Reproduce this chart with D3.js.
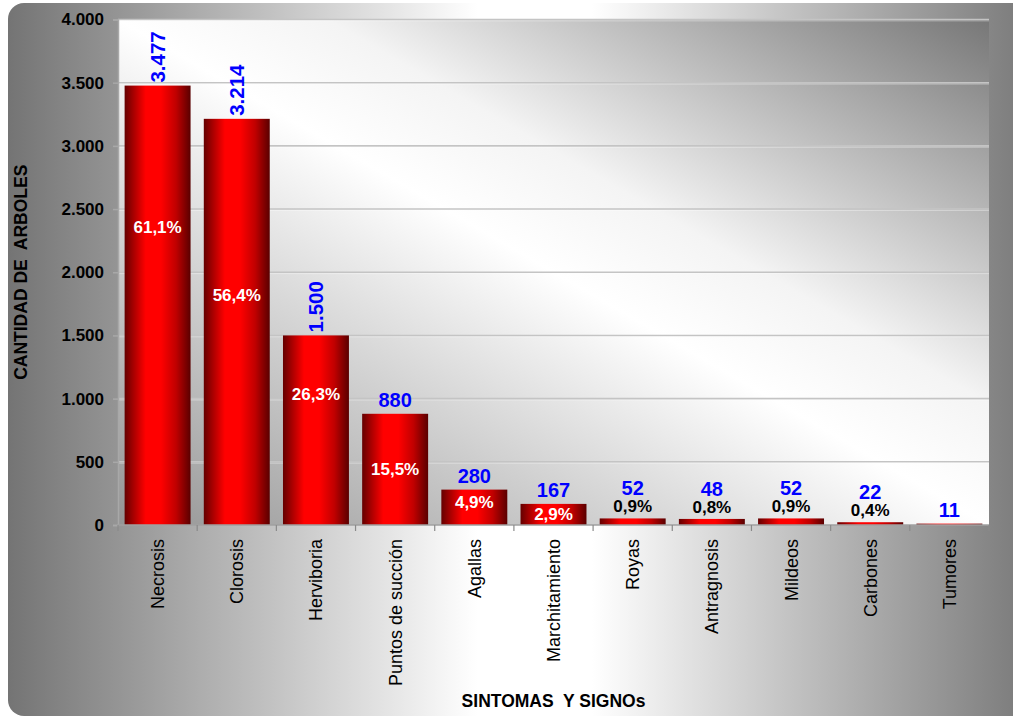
<!DOCTYPE html>
<html>
<head>
<meta charset="utf-8">
<script src="https://cdn.jsdelivr.net/npm/d3@7"></script>
<style>
  body { margin: 0; background: #ffffff; }
  text { font-family: Arial, "Liberation Sans", sans-serif; }
</style>
</head>
<body>
<svg id="chart" width="1013" height="716"></svg>
<script>
// Symptoms and signs observed, number of trees affected
const categories = ["Necrosis", "Clorosis", "Herviboria", "Puntos de succión", "Agallas",
  "Marchitamiento", "Royas", "Antragnosis", "Mildeos", "Carbones", "Tumores"];
const trees = [3477, 3214, 1500, 880, 280, 167, 52, 48, 52, 22, 11];
const sharePct = [61.1, 56.4, 26.3, 15.5, 4.9, 2.9, 0.9, 0.8, 0.9, 0.4, null];
const yTicks = [0, 500, 1000, 1500, 2000, 2500, 3000, 3500, 4000];

const width = 1013, height = 716;
const plot = { left: 118, right: 989, top: 19.5, bottom: 525 };

const esLocale = d3.formatLocale({ decimal: ",", thousands: ".", grouping: [3], currency: ["", " €"] });
const fmtCount = esLocale.format(",d");
const fmtPct = esLocale.format(".1f");

const svg = d3.select("#chart");
const defs = svg.append("defs");

// Frame fill: grey at both sides, white through the middle
const frameGrad = defs.append("linearGradient").attr("id", "frameFill")
  .attr("x1", 0).attr("y1", 0).attr("x2", 1).attr("y2", 0);
[[0, "#747474"], [0.45, "#ffffff"], [0.56, "#ffffff"], [1, "#737373"]].forEach(([o, c]) =>
  frameGrad.append("stop").attr("offset", o).attr("stop-color", c));

// Plot area fill: diagonal, grey in the lower-left and upper-right corners
const plotGrad = defs.append("linearGradient").attr("id", "plotFill")
  .attr("x1", 0).attr("y1", 1).attr("x2", 1).attr("y2", 0);
[[0, "#949494"], [0.5, "#ffffff"], [0.62, "#f4f4f4"], [1, "#777777"]].forEach(([o, c]) =>
  plotGrad.append("stop").attr("offset", o).attr("stop-color", c));

// Cylinder-like shading of the bars
const barGrad = defs.append("linearGradient").attr("id", "barFill")
  .attr("x1", 0).attr("y1", 0).attr("x2", 1).attr("y2", 0);
[[0, "#650000"], [0.12, "#a00000"], [0.32, "#ff0000"], [0.55, "#ff0000"], [0.78, "#c00000"], [1, "#5a0000"]]
  .forEach(([o, c]) => barGrad.append("stop").attr("offset", o).attr("stop-color", c));

// Outer frame
svg.append("rect")
  .attr("x", 8).attr("y", 3)
  .attr("width", width + 30).attr("height", height - 3)
  .attr("rx", 16).attr("ry", 16)
  .attr("fill", "url(#frameFill)");

// Plot background
svg.append("rect")
  .attr("x", plot.left).attr("y", plot.top)
  .attr("width", plot.right - plot.left).attr("height", plot.bottom - plot.top)
  .attr("fill", "url(#plotFill)");

const x = d3.scaleBand()
  .domain(categories)
  .range([plot.left, plot.right])
  .paddingInner(0.167)
  .paddingOuter(0.0835);

const y = d3.scaleLinear()
  .domain([0, 4000])
  .range([plot.bottom, plot.top]);

// Horizontal gridlines
const grid = svg.append("g");
grid.selectAll("line.grid")
  .data(yTicks.filter(v => v > 0))
  .join("line")
  .attr("class", "grid")
  .attr("x1", plot.left).attr("x2", plot.right)
  .attr("y1", d => y(d)).attr("y2", d => y(d))
  .attr("stroke", "#c4c4c4").attr("stroke-width", 1.6);
grid.selectAll("line.hl")
  .data(yTicks.filter(v => v > 0))
  .join("line")
  .attr("class", "hl")
  .attr("x1", plot.left).attr("x2", plot.right)
  .attr("y1", d => y(d) + 1.4).attr("y2", d => y(d) + 1.4)
  .attr("stroke", "#ffffff").attr("stroke-opacity", 0.35).attr("stroke-width", 1);

// Y axis
const yAxis = svg.append("g")
  .attr("transform", `translate(${plot.left},0)`)
  .call(d3.axisLeft(y).tickValues(yTicks).tickFormat(fmtCount).tickSize(5).tickPadding(9));
yAxis.select(".domain").attr("stroke", "#a8a8a8").attr("stroke-width", 1.5);
yAxis.selectAll(".tick line").attr("stroke", "#a8a8a8").attr("stroke-width", 1.5);
yAxis.selectAll(".tick text")
  .attr("fill", "#000").attr("font-size", 17).attr("font-weight", "bold")
  .attr("font-family", "Arial, 'Liberation Sans', sans-serif");

// Bars
svg.append("g").selectAll("rect")
  .data(categories.map((c, i) => ({ c, v: trees[i], p: sharePct[i] })))
  .join("rect")
  .attr("x", d => x(d.c))
  .attr("y", d => y(d.v))
  .attr("width", x.bandwidth())
  .attr("height", d => y(0) - y(d.v))
  .attr("fill", "url(#barFill)");

// X axis line with separators between categories
svg.append("line")
  .attr("x1", plot.left).attr("x2", plot.right)
  .attr("y1", plot.bottom).attr("y2", plot.bottom)
  .attr("stroke", "#a0a0a0").attr("stroke-width", 1.5);
svg.append("g").selectAll("line")
  .data(d3.range(categories.length + 1))
  .join("line")
  .attr("x1", i => plot.left + i * x.step())
  .attr("x2", i => plot.left + i * x.step())
  .attr("y1", plot.bottom).attr("y2", plot.bottom + 6)
  .attr("stroke", "#8a8a8a").attr("stroke-width", 1.2);

// Category labels, rotated
svg.append("g").selectAll("text")
  .data(categories)
  .join("text")
  .attr("transform", d => `translate(${x(d) + x.bandwidth() / 2 + 6.5},${plot.bottom + 14}) rotate(-90)`)
  .attr("text-anchor", "end")
  .attr("font-size", 18)
  .attr("fill", "#000")
  .text(d => d);

// Value labels
const labels = svg.append("g");
const data = categories.map((c, i) => ({ c, v: trees[i], p: sharePct[i], i }));
const cx = d => x(d.c) + x.bandwidth() / 2;

// tall bars: count written upright above the bar
labels.selectAll("text.vert")
  .data(data.filter(d => d.v >= 1000))
  .join("text")
  .attr("class", "vert")
  .attr("transform", d => `translate(${cx(d) + 7},${y(d.v) - 3}) rotate(-90)`)
  .attr("text-anchor", "start")
  .attr("font-size", 20.5).attr("font-weight", "bold")
  .attr("fill", "#0000ff")
  .text(d => fmtCount(d.v));

// medium and small bars: count above
labels.selectAll("text.horiz")
  .data(data.filter(d => d.v < 1000))
  .join("text")
  .attr("class", "horiz")
  .attr("x", cx)
  .attr("y", d => y(d.v) - (d.v >= 100 || d.p == null ? 7 : 23))
  .attr("text-anchor", "middle")
  .attr("font-size", 20).attr("font-weight", "bold")
  .attr("fill", "#0000ff")
  .text(d => fmtCount(d.v));

// share inside the bar (white), placed along the bar height
const insideLift = [0.678, 0.566, 0.69, 0.50, 0.65, 0.52];
labels.selectAll("text.pin")
  .data(data.filter(d => d.v >= 100 && d.p != null))
  .join("text")
  .attr("class", "pin")
  .attr("x", cx)
  .attr("y", d => y(d.v * insideLift[d.i]) + 6)
  .attr("text-anchor", "middle")
  .attr("font-size", 17).attr("font-weight", "bold")
  .attr("fill", "#ffffff")
  .text(d => fmtPct(d.p) + "%");

// share above the small bars (black)
labels.selectAll("text.pout")
  .data(data.filter(d => d.v < 100 && d.p != null))
  .join("text")
  .attr("class", "pout")
  .attr("x", cx)
  .attr("y", d => y(d.v) - 6)
  .attr("text-anchor", "middle")
  .attr("font-size", 17).attr("font-weight", "bold")
  .attr("fill", "#000000")
  .text(d => fmtPct(d.p) + "%");

// Axis titles
svg.append("text")
  .attr("transform", `translate(27,${(plot.top + plot.bottom) / 2}) rotate(-90)`)
  .attr("text-anchor", "middle")
  .attr("font-size", 17.5).attr("font-weight", "bold")
  .attr("fill", "#000")
  .attr("xml:space", "preserve")
  .text("CANTIDAD DE  ARBOLES");

svg.append("text")
  .attr("x", (plot.left + plot.right) / 2)
  .attr("y", 707)
  .attr("text-anchor", "middle")
  .attr("font-size", 17.5).attr("font-weight", "bold")
  .attr("fill", "#000")
  .attr("xml:space", "preserve")
  .text("SINTOMAS  Y SIGNOs");
</script>
</body>
</html>
